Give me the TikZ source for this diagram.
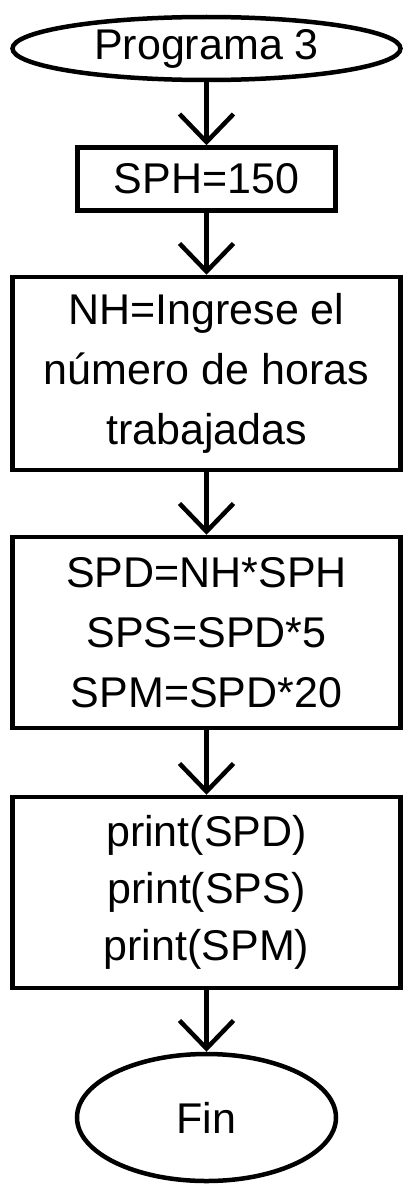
\documentclass[tikz,border=0pt]{standalone}
\usepackage{fontspec}
\setmainfont{Liberation Sans}
\usetikzlibrary{arrows.meta,shapes.geometric}
\begin{document}
\begin{tikzpicture}[x=1pt,y=-1pt,
  lw/.style={line width=4.5pt},
  term/.style={draw,lw,ellipse,inner sep=0pt,font=\fontsize{43}{60}\selectfont},
  proc/.style={draw,lw,rectangle,inner sep=0pt,align=center,font=\fontsize{43}{60}\selectfont},
  flow/.style={lw,-{Straight Barb[length=28pt,width=54pt]}}]
\useasboundingbox (0,0) rectangle (420,1199);
\node[term,minimum width=388pt,minimum height=63pt] (start) at (206.5,48.5) {Programa 3};
\node[proc,minimum width=258pt,minimum height=63pt] (sph) at (206.5,179) {SPH=150};
\node[proc,minimum width=388pt,minimum height=193pt] (nh) at (206.5,373.5) {NH=Ingrese el\\número de horas\\trabajadas};
\node[proc,minimum width=388pt,minimum height=191pt] (calc) at (206.5,632.5) {SPD=NH*SPH\\SPS=SPD*5\\SPM=SPD*20};
\node[proc,minimum width=388pt,minimum height=191pt,font=\fontsize{43}{57}\selectfont] (out) at (206.5,892.5) {print(SPD)\\print(SPS)\\print(SPM)};
\node[term,minimum width=259pt,minimum height=127pt] (fin) at (206.5,1117.5) {Fin};
\draw[flow] (start) -- (sph);
\draw[flow] (sph) -- (nh);
\draw[flow] (nh) -- (calc);
\draw[flow] (calc) -- (out);
\draw[flow] (out) -- (fin);
\end{tikzpicture}
\end{document}
